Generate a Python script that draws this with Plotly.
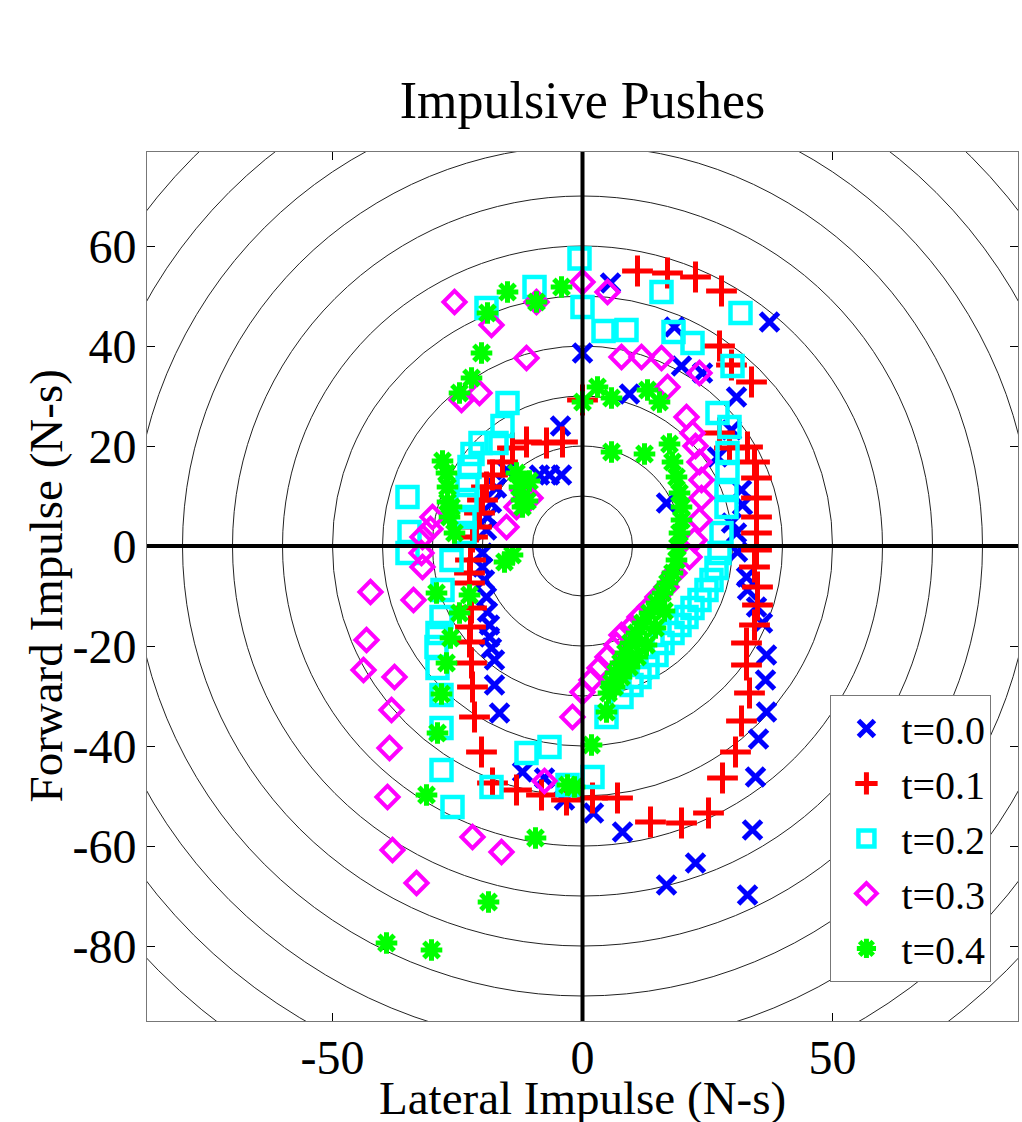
import plotly.graph_objects as go

# ---------------- data ----------------
series_names = ["t=0.0", "t=0.1", "t=0.2", "t=0.3", "t=0.4"]

x_t00 = [-4.4, -4.2, -6.6, -8.6, -15.2, -17.2, -18.2, -19.0, -19.2, -20.0, -20.0, -19.6, -19.2, -19.0, -18.6,
         -18.6, -18.2, -17.6, -17.6, -16.6, -12.0, -7.6, -3.6, 2.2, 8.0, 16.8, 22.6, 33.0, 34.0, 34.6,
         35.2, 36.8, 36.6, 36.8, 36.0, 34.8, 33.0, 32.8, 31.0, 30.8, 29.8, 32.0, 31.8, 27.0, 29.8,
         30.8, 9.4, 24.0, 19.8, 0.0, 18.4, 37.4, 5.6, 16.8]
y_t00 = [24.0, 14.2, 14.2, 14.2, 15.2, 11.6, 8.6, 5.8, 3.2, -1.4, -4.2, -6.8, -10.2, -13.2, -15.8,
         -18.2, -20.4, -22.8, -27.8, -33.4, -45.2, -46.4, -50.8, -53.4, -57.2, -67.8, -63.4, -69.8, -56.8, -46.2,
         -38.6, -33.2, -26.8, -21.8, -15.4, -12.2, -8.8, -6.2, -1.2, 2.6, 4.6, 8.2, 11.2, 17.8, 23.2,
         29.8, 30.4, 34.6, 36.0, 38.6, 43.8, 44.8, 52.6, 8.6]

x_t01 = [0.0, -4.0, -7.2, -11.2, -14.0, -16.0, -18.0, -19.2, -20.0, -20.6, -21.2, -22.0, -22.4, -22.6, -22.6,
         -22.2, -22.4, -22.6, -22.2, -22.0, -21.6, -20.2, -18.0, -13.2, -8.2, -3.2, 2.0, 7.0, 13.6, 19.8,
         25.2, 28.0, 30.6, 31.8, 33.4, 32.8, 32.8, 34.4, 35.0, 35.0, 34.4, 34.8, 34.8, 34.8, 34.8,
         34.8, 34.4, 33.0, 29.4, 27.4, 33.8, 29.8, 27.4, 27.8, 22.6, 17.0, 11.0]
y_t01 = [29.2, 20.8, 20.6, 20.8, 19.6, 16.8, 14.2, 11.8, 9.2, 6.6, 3.8, 1.8, -2.8, -5.4, -7.4,
         -12.4, -16.2, -19.2, -23.4, -28.2, -34.2, -41.2, -47.4, -48.8, -49.8, -50.8, -50.4, -50.4, -55.2, -55.4,
         -53.4, -46.4, -41.2, -35.0, -29.4, -23.8, -19.4, -15.8, -11.8, -8.2, -4.2, -0.8, 2.6, 5.8, 9.6,
         13.6, 16.8, 19.8, 19.6, 22.6, 32.8, 36.2, 40.0, 51.0, 53.8, 54.6, 55.0]

x_t02 = [-0.6, 0.0, -9.6, -19.2, -15.0, -16.0, -17.2, -20.4, -22.0, -22.6, -23.0, -23.2, -23.6, -23.6, -35.0,
         -34.6, -35.0, -26.2, -28.0, -28.2, -29.0, -29.2, -29.0, -28.2, -28.2, -28.2, -26.0, -18.2, -11.2, -6.6,
         -3.0, 2.0, 4.8, 7.8, 9.8, 11.4, 13.0, 14.8, 16.0, 18.0, 19.4, 20.8, 22.0, 23.4, 24.8,
         25.8, 26.8, 27.4, 27.8, 28.8, 28.8, 29.0, 29.0, 29.4, 27.0, 30.0, 22.0, 18.2, 8.8, 4.2,
         15.8, 31.6]
y_t02 = [57.5, 47.8, 51.8, 47.6, 28.6, 24.0, 20.6, 20.6, 18.4, 15.8, 12.2, 9.2, 5.8, 2.6, 9.8,
         2.8, -1.4, -2.8, -8.8, -14.2, -17.4, -20.2, -24.4, -29.8, -36.4, -44.8, -52.2, -48.2, -41.4, -40.2,
         -47.8, -46.2, -34.2, -30.2, -27.8, -26.2, -24.2, -21.8, -19.4, -17.4, -15.8, -14.2, -12.4, -10.8, -8.8,
         -6.8, -4.4, -1.4, 2.6, 7.8, 11.2, 14.8, 18.6, 23.8, 26.6, 36.0, 40.6, 42.8, 43.2, 43.0,
         50.8, 46.6]

x_t03 = [0.0, 5.0, -9.2, -25.6, -18.2, -11.2, -20.6, -24.2, 7.8, 11.8, 15.8, 23.4, 17.0, 20.8, 22.0,
         22.6, 23.4, 23.8, 23.8, 23.4, 22.4, 21.4, 18.4, 16.8, 15.0, 13.4, 11.4, 9.8, 7.8, 6.8,
         5.0, 3.4, 1.8, 0.0, -2.0, -7.6, -16.2, -22.0, -33.2, -38.0, -39.0, -38.6, -38.2, -37.6, -43.8,
         -43.2, -42.4, -33.8, -32.0, -32.2, -32.0, -30.4, -30.0, -15.2, -13.2, -12.0, -10.4]
y_t03 = [52.8, 50.8, 48.8, 48.8, 44.2, 37.6, 30.6, 29.2, 37.8, 37.8, 37.6, 34.6, 31.8, 25.8, 22.6,
         20.0, 16.8, 13.2, 9.6, 5.2, 1.2, -2.2, -5.4, -8.2, -10.2, -12.2, -14.2, -16.2, -17.8, -19.8,
         -22.2, -24.4, -26.8, -29.2, -34.2, -47.0, -61.2, -58.2, -67.4, -60.8, -50.2, -40.4, -32.8, -26.2, -24.8,
         -18.8, -9.2, -10.8, -4.2, -1.4, 1.8, 3.4, 5.8, 3.8, 7.8, 11.2, 9.6]

x_t04 = [-4.2, -9.2, -15.0, -19.0, -20.2, -22.2, -24.6, 0.0, 3.0, 5.8, 13.0, 15.4, 5.8, 12.4, 17.4,
         18.0, 18.8, 19.4, 19.8, 19.8, 19.4, 19.0, 18.8, 18.0, 17.0, 16.0, 14.8, 13.4, 12.0, 10.8,
         9.6, 8.6, 7.6, 6.6, 5.8, 5.2, 16.4, 14.6, 12.8, 11.0, 9.4, 7.8, 6.4, 4.8, 1.8,
         -1.6, -3.0, -9.4, -18.8, -30.2, -39.2, -31.2, -29.0, -28.2, -27.2, -26.4, -24.6, -22.6, -29.2, -25.6,
         -26.6, -26.2, -27.0, -27.0, -27.2, -28.0, -12.6, -12.2, -13.2, -12.0, -10.6, -11.0, -14.0, -15.6]
y_t04 = [51.8, 48.8, 50.8, 46.6, 38.6, 33.6, 30.6, 28.8, 31.8, 29.6, 31.2, 28.8, 18.8, 18.4, 20.4,
         16.8, 13.8, 10.6, 7.8, 5.2, 2.6, -0.2, -2.8, -5.4, -7.4, -9.4, -11.4, -13.4, -15.4, -17.4,
         -19.4, -21.4, -23.4, -25.4, -27.4, -29.4, -13.0, -16.4, -19.8, -22.2, -24.2, -26.2, -28.2, -33.2, -39.8,
         -48.2, -47.8, -58.4, -71.2, -80.8, -79.4, -49.8, -37.4, -29.6, -23.4, -18.4, -13.4, -9.8, -9.4, 2.6,
         5.8, 7.8, 8.8, 11.8, 14.6, 17.0, 11.8, 9.2, 14.6, 7.8, 13.0, 9.0, -1.8, -3.2]

# range-ring radii and tick labels
ring_radii = [10, 20, 30, 40, 50, 60, 70, 80, 90, 100, 110, 120, 130]
x_tick_vals = [-50, 0, 50]
x_tick_text = ["-50", "0", "50"]
y_tick_vals = [-80, -60, -40, -20, 0, 20, 40, 60]
y_tick_text = ["-80", "-60", "-40", "-20", "0", "20", "40", "60"]

title_text = "Impulsive Pushes"
x_label = "Lateral Impulse (N-s)"
y_label = "Forward Impulse (N-s)"

# ---------------- styling ----------------
FONT = "Liberation Serif, Times New Roman, Times, serif"
xs = [x_t00, x_t01, x_t02, x_t03, x_t04]
ys = [y_t00, y_t01, y_t02, y_t03, y_t04]
colors = ["#0000FF", "#FF0000", "#00FFFF", "#FF00FF", "#00FF00"]
symbols = ["x-thin-open", "cross-thin-open", "square-open", "diamond-open", "asterisk-open"]
sizes = [18, 22, 20, 17, 18]
widths = [5, 5, 4.5, 4, 5]

fig = go.Figure()
for name, xv, yv, c, s, sz, w in zip(series_names, xs, ys, colors, symbols, sizes, widths):
    fig.add_trace(go.Scatter(
        x=xv, y=yv, mode="markers", name=name,
        marker=dict(symbol=s, size=sz, color=c, line=dict(color=c, width=w)),
    ))

shapes = []
for r in ring_radii:
    shapes.append(dict(type="circle", xref="x", yref="y", x0=-r, y0=-r, x1=r, y1=r,
                       line=dict(color="#222222", width=1), layer="below"))
# thick zero axes drawn above markers
shapes.append(dict(type="line", xref="x", yref="paper", x0=0, x1=0, y0=0, y1=1,
                   line=dict(color="black", width=4), layer="above"))
shapes.append(dict(type="line", xref="paper", yref="y", x0=0, x1=1, y0=0, y1=0,
                   line=dict(color="black", width=4), layer="above"))

axis_common = dict(
    showgrid=False, zeroline=False, showline=True, linecolor="#777777", linewidth=1,
    mirror="ticks", ticks="inside", ticklen=8, tickwidth=1, tickcolor="black",
    tickfont=dict(family=FONT, size=48, color="black"),
)

fig.update_layout(
    width=1022, height=1122,
    margin=dict(l=147, r=4, t=152, b=101),
    paper_bgcolor="white", plot_bgcolor="white",
    title=dict(text=title_text, x=0.5, xref="paper", xanchor="center",
               y=1 - 100 / 1122, yref="container", yanchor="middle",
               font=dict(family=FONT, size=52, color="black")),
    xaxis=dict(range=[-87.1, 87.1], tickvals=x_tick_vals, ticktext=x_tick_text,
               ticklabelstandoff=-6, **axis_common),
    yaxis=dict(range=[-95, 78.8], tickvals=y_tick_vals, ticktext=y_tick_text, **axis_common),
    shapes=shapes,
    showlegend=True,
    legend=dict(x=0.9695, xanchor="right", y=0.045, yanchor="bottom",
                bgcolor="white", bordercolor="#777777", borderwidth=1,
                font=dict(family=FONT, size=40, color="black"),
                itemsizing="trace", itemwidth=60, tracegroupgap=0),
    annotations=[
        dict(text=x_label, xref="paper", yref="paper", x=0.5, y=(1021 - 1098) / 869,
             xanchor="center", yanchor="middle", showarrow=False,
             font=dict(family=FONT, size=47, color="black")),
        dict(text=y_label, xref="paper", yref="paper", x=(45 - 147) / 871, y=0.5,
             xanchor="center", yanchor="middle", showarrow=False, textangle=-90,
             font=dict(family=FONT, size=47, color="black")),
    ],
)

fig.write_html("out.html")
